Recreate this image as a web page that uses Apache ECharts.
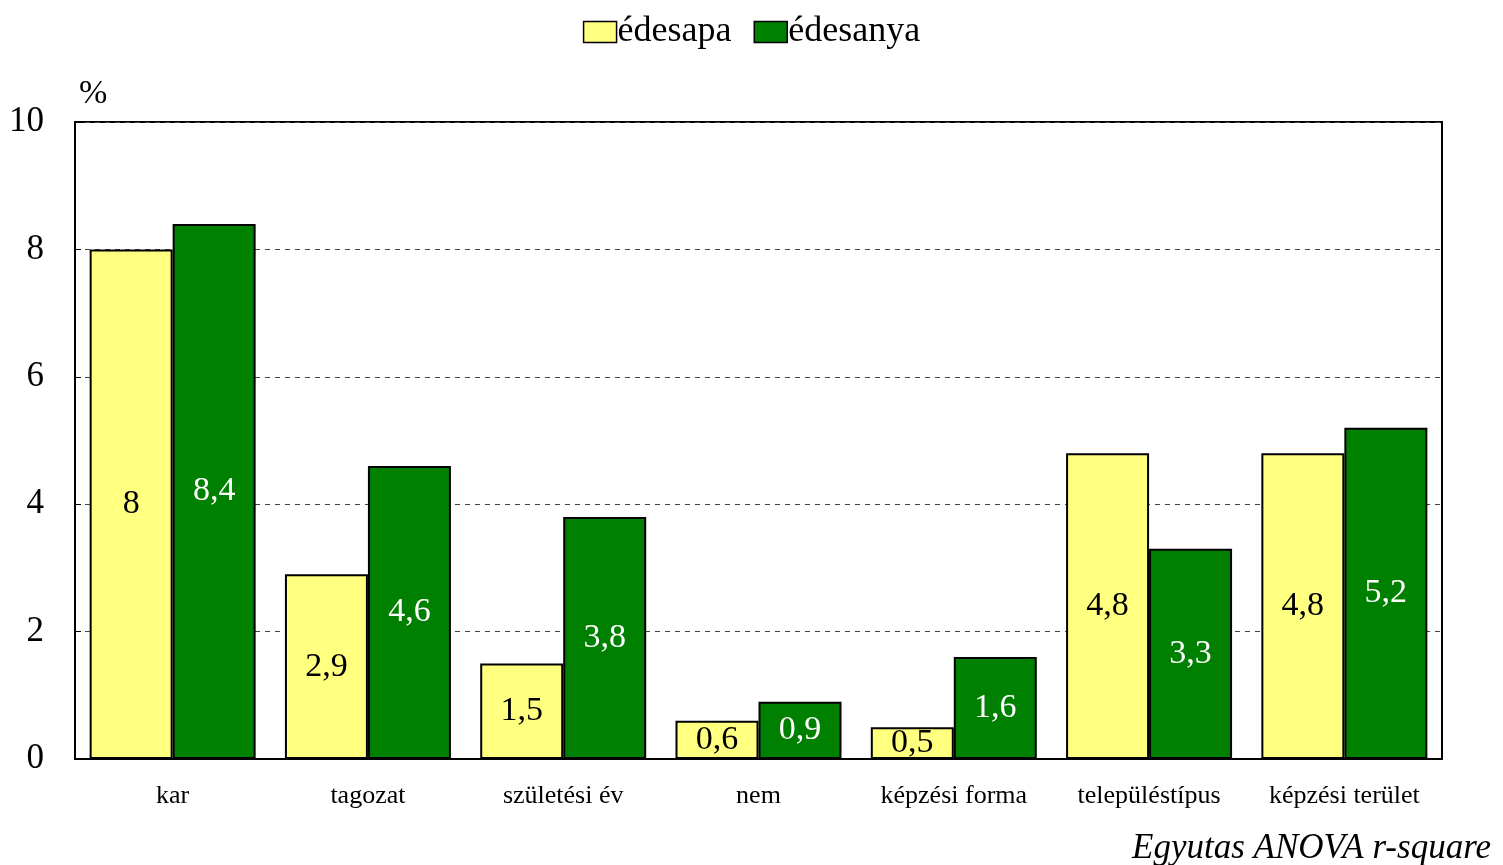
<!DOCTYPE html>
<html>
<head>
<meta charset="utf-8">
<script src="https://cdn.jsdelivr.net/npm/echarts@6/dist/echarts.min.js"></script>
<style>
  html, body { margin: 0; padding: 0; background: #fff; }
  #chart { width: 1503px; height: 865px; }
</style>
</head>
<body>
<div id="chart"></div>
<script>
var categories = ['kar', 'tagozat', 'születési év', 'nem', 'képzési forma', 'településtípus', 'képzési terület'];
var apaValues = [8, 2.9, 1.5, 0.6, 0.5, 4.8, 4.8];
var anyaValues = [8.4, 4.6, 3.8, 0.9, 1.6, 3.3, 5.2];
var yTicks = [0, 2, 4, 6, 8, 10];

var serif = '"Liberation Serif", "Times New Roman", serif';

function commaLabel(p) {
    return String(p.value).replace('.', ',');
}

var chart = echarts.init(document.getElementById('chart'));

var option = {
    animation: false,
    textStyle: { fontFamily: serif },
    legend: {
        top: 9,
        left: 'center',
        icon: 'rect',
        itemWidth: 33,
        itemHeight: 21,
        itemGap: 22,
        itemStyle: { borderColor: '#000', borderWidth: 1.5 },
        textStyle: { fontFamily: serif, fontSize: 36, color: '#000', padding: [0, 0, 0, -4] },
        data: ['édesapa', 'édesanya']
    },
    title: [{
        text: 'Egyutas ANOVA r-square',
        right: 7,
        top: 826,
        textStyle: { fontFamily: serif, fontSize: 35, fontStyle: 'italic', fontWeight: 'normal', color: '#000' }
    }, {
        text: '%',
        left: 74,
        top: 72,
        textStyle: { fontFamily: serif, fontSize: 34, fontWeight: 'normal', color: '#000' }
    }],
    grid: { left: 75, right: 61, top: 122, bottom: 106, show: true, borderColor: '#000', borderWidth: 2, backgroundColor: 'transparent' },
    xAxis: {
        type: 'category',
        data: categories,
        axisLine: { lineStyle: { color: '#000', width: 2 } },
        axisTick: { show: false },
        axisLabel: { interval: 0, fontFamily: serif, fontSize: 26, color: '#000', margin: 24 }
    },
    yAxis: {
        type: 'value',
        min: yTicks[0],
        max: yTicks[yTicks.length - 1],
        interval: 2,
        axisLine: { show: true, lineStyle: { color: '#000', width: 2 } },
        axisTick: { show: true, inside: true, length: 6, lineStyle: { color: '#000' } },
        axisLabel: { fontFamily: serif, fontSize: 35, color: '#000', margin: 31 },
        splitLine: { show: true, lineStyle: { color: '#444', type: [5, 5], width: 1 } }
    },
    series: [{
        name: 'édesapa',
        type: 'bar',
        data: apaValues,
        barGap: '0%',
        barCategoryGap: '15%',
        itemStyle: { color: '#FFFF80', borderColor: '#000', borderWidth: 2 },
        label: { show: true, position: 'inside', formatter: commaLabel, fontFamily: serif, fontSize: 34, color: '#000' }
    }, {
        name: 'édesanya',
        type: 'bar',
        data: anyaValues,
        itemStyle: { color: '#008000', borderColor: '#000', borderWidth: 2 },
        label: { show: true, position: 'inside', formatter: commaLabel, fontFamily: serif, fontSize: 34, color: '#fff' }
    }]
};

chart.setOption(option);
</script>
</body>
</html>
